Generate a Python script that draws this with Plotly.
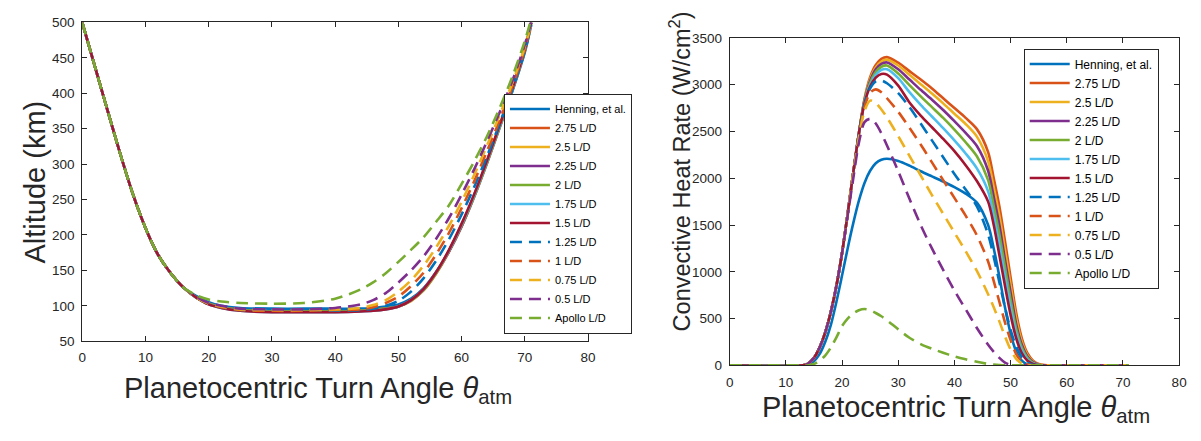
import plotly.graph_objects as go

# ---------------- data ----------------
names = ["Henning, et al.", "2.75 L/D", "2.5 L/D", "2.25 L/D", "2 L/D", "1.75 L/D",
         "1.5 L/D", "1.25 L/D", "1 L/D", "0.75 L/D", "0.5 L/D", "Apollo L/D"]
colors = ["#0072BD", "#D95319", "#EDB120", "#7E2F8E", "#77AC30", "#4DBEEE",
          "#A2142F", "#0072BD", "#D95319", "#EDB120", "#7E2F8E", "#77AC30"]
dashes = ["solid"] * 7 + ["12px,7px"] * 5

# Left panel: altitude (km) vs turn angle (deg)
x_desc = [0, 2, 4, 6, 8, 10, 12, 14, 16]
alt_desc = [500, 438, 376, 315, 258, 210, 172, 146, 126]
x_asc = [18, 20, 22, 25, 30, 35, 40, 44, 46, 48, 50, 52, 54, 56, 58, 60, 62, 64, 66, 68, 70, 71]
alt_henning = [114, 105, 100, 97, 96, 96, 96, 96, 97, 99, 102, 110, 125, 148, 177, 212, 254, 301, 351, 402, 458, 496]
alt_275 = [112, 103, 98, 94, 92, 92, 92, 93, 94, 96, 99, 107, 122, 146, 176, 212, 255, 302, 352, 404, 461, 500]
alt_25 = [112, 103, 98, 94, 92, 92, 92, 93, 94, 96, 99, 107, 122, 146, 177, 213, 255, 302, 352, 404, 461, 500]
alt_225 = [112, 103, 98, 94, 92, 92, 92, 93, 94, 96, 99, 108, 123, 147, 177, 213, 256, 303, 353, 404, 461, 500]
alt_2 = [112, 103, 98, 94, 92, 92, 92, 93, 94, 96, 99, 108, 123, 147, 178, 214, 256, 303, 353, 405, 461, 500]
alt_175 = [112, 102, 97, 93, 91, 91, 91, 92, 93, 95, 99, 108, 124, 148, 178, 215, 257, 304, 354, 405, 462, 500]
alt_15 = [112, 102, 97, 93, 91, 91, 91, 92, 93, 95, 99, 108, 124, 148, 179, 216, 258, 305, 355, 406, 462, 500]
alt_125 = [112, 103, 98, 94, 93, 93, 93, 94, 96, 100, 107, 120, 139, 164, 194, 229, 268, 311, 357, 405, 460, 497]
alt_1 = [112, 103, 98, 94, 93, 93, 94, 95, 98, 104, 113, 128, 147, 173, 203, 238, 276, 318, 362, 409, 463, 498]
alt_075 = [112, 103, 99, 95, 94, 94, 95, 97, 101, 108, 120, 136, 157, 183, 213, 247, 285, 326, 369, 414, 466, 499]
alt_05 = [113, 104, 100, 96, 95, 95, 97, 102, 108, 118, 133, 150, 170, 195, 224, 257, 293, 332, 373, 417, 469, 500]
alt_apollo = [115, 109, 106, 104, 103, 104, 110, 123, 133, 146, 162, 179, 197, 219, 242, 272, 304, 339, 379, 423, 474, 505]
alt_series = [alt_henning, alt_275, alt_25, alt_225, alt_2, alt_175, alt_15,
              alt_125, alt_1, alt_075, alt_05, alt_apollo]

# Right panel: convective heat rate (W/cm^2) vs turn angle (deg)
x_q = [0, 13, 14, 15, 16, 17, 18, 19, 20, 21, 22, 23, 24, 25, 26, 27, 28, 30, 32, 34, 36, 38,
       40, 42, 44, 46, 47, 48, 49, 50, 51, 52, 53, 54, 55, 56, 58, 71]
q_henning = [0, 0, 10, 45, 120, 250, 430, 680, 960, 1250, 1520, 1760, 1950, 2080, 2160, 2198, 2208,
             2185, 2135, 2075, 2020, 1965, 1905, 1835, 1740, 1500, 1250, 950, 620, 340, 150, 50, 10,
             0, 0, 0, 0, 0]
q_275 = [0, 0, 20, 80, 190, 350, 570, 850, 1200, 1620, 2060, 2480, 2850, 3080, 3210, 3275, 3295,
         3235, 3145, 3055, 2960, 2855, 2750, 2645, 2525, 2280, 2000, 1700, 1330, 940, 560, 290, 130,
         50, 15, 3, 0, 0]
q_25 = [0, 0, 20, 80, 190, 350, 570, 850, 1200, 1620, 2060, 2480, 2840, 3060, 3185, 3248, 3268,
        3205, 3105, 3005, 2905, 2800, 2690, 2580, 2445, 2180, 1900, 1600, 1230, 860, 500, 250, 110,
        40, 10, 0, 0, 0]
q_225 = [0, 0, 20, 80, 190, 350, 570, 850, 1200, 1620, 2060, 2480, 2830, 3040, 3165, 3222, 3238,
         3165, 3055, 2945, 2840, 2730, 2610, 2485, 2345, 2080, 1800, 1500, 1130, 780, 440, 220, 95,
         35, 8, 0, 0, 0]
q_2 = [0, 0, 20, 80, 190, 350, 570, 850, 1200, 1620, 2060, 2480, 2820, 3020, 3135, 3192, 3205,
       3120, 2995, 2875, 2760, 2645, 2520, 2385, 2235, 1980, 1700, 1400, 1050, 700, 390, 190, 80,
       28, 5, 0, 0, 0]
q_175 = [0, 0, 20, 80, 190, 350, 570, 850, 1200, 1620, 2060, 2480, 2810, 3000, 3105, 3158, 3165,
         3070, 2920, 2785, 2660, 2535, 2405, 2265, 2105, 1860, 1600, 1290, 950, 620, 340, 160, 65,
         20, 3, 0, 0, 0]
q_15 = [0, 0, 20, 80, 190, 350, 570, 850, 1200, 1620, 2060, 2480, 2800, 2980, 3075, 3115, 3108,
        2990, 2810, 2670, 2545, 2420, 2290, 2140, 1970, 1750, 1500, 1180, 850, 540, 290, 130, 50,
        15, 0, 0, 0, 0]
q_125 = [0, 0, 20, 80, 190, 350, 570, 850, 1200, 1620, 2060, 2470, 2780, 2960, 3035, 3045, 3015,
         2910, 2760, 2585, 2405, 2225, 2045, 1880, 1700, 1400, 1160, 890, 620, 380, 200, 90, 30,
         5, 0, 0, 0, 0]
q_1 = [0, 0, 20, 80, 190, 350, 570, 850, 1200, 1620, 2060, 2450, 2760, 2915, 2950, 2920, 2855,
       2710, 2540, 2360, 2170, 1980, 1790, 1600, 1390, 1110, 900, 680, 460, 270, 120, 40, 10,
       0, 0, 0, 0, 0]
q_075 = [0, 0, 20, 80, 190, 350, 570, 850, 1200, 1620, 2050, 2430, 2720, 2830, 2805, 2735, 2650,
         2450, 2240, 2030, 1820, 1620, 1420, 1220, 1010, 760, 620, 470, 310, 170, 70, 20, 0,
         0, 0, 0, 0, 0]
q_05 = [0, 0, 20, 80, 190, 350, 570, 850, 1200, 1600, 2000, 2380, 2600, 2635, 2585, 2480, 2350,
        2075, 1780, 1500, 1250, 1020, 800, 600, 400, 220, 145, 80, 30, 5, 0, 0, 0,
        0, 0, 0, 0, 0]
q_apollo = [0, 0, 0, 15, 50, 105, 190, 300, 420, 500, 555, 590, 602, 590, 560, 525, 482,
            385, 295, 228, 178, 135, 96, 65, 38, 15, 8, 3, 0, 0, 0, 0, 0,
            0, 0, 0, 0, 0]
q_series = [q_henning, q_275, q_25, q_225, q_2, q_175, q_15, q_125, q_1, q_075, q_05, q_apollo]

x_ticks = [0, 10, 20, 30, 40, 50, 60, 70, 80]
alt_ticks = [50, 100, 150, 200, 250, 300, 350, 400, 450, 500]
q_ticks = [0, 500, 1000, 1500, 2000, 2500, 3000, 3500]

x_title = "Planetocentric Turn Angle <i>θ</i><sub>atm</sub>"
alt_title = "Altitude (km)"
q_title = "Convective Heat Rate (W/cm<sup>2</sup>)"

# ---------------- figure ----------------
W, H = 1201, 441
FONT = "Liberation Sans, Arial, Helvetica, sans-serif"
AX = "#262626"

fig = go.Figure()
for i, name in enumerate(names):
    fig.add_trace(go.Scatter(
        x=x_desc + x_asc, y=alt_desc + alt_series[i], mode="lines", name=name,
        line=dict(color=colors[i], width=2.6, dash=dashes[i], shape="spline", smoothing=0.8),
        xaxis="x", yaxis="y", legend="legend", showlegend=True))
for i, name in enumerate(names):
    fig.add_trace(go.Scatter(
        x=x_q, y=q_series[i], mode="lines", name=name,
        line=dict(color=colors[i], width=2.6, dash=dashes[i], shape="spline", smoothing=0.8),
        xaxis="x2", yaxis="y2", legend="legend2", showlegend=True))


def px_x(p):
    return p / W


def px_y(p):
    return 1 - p / H


common_axis = dict(showgrid=False, zeroline=False, showline=True, linecolor=AX, linewidth=1,
                   mirror="ticks", ticks="inside", ticklen=5, tickwidth=1, tickcolor=AX,
                   tickfont=dict(family=FONT, size=13.5, color=AX), ticklabelstandoff=4)

fig.update_layout(
    width=W, height=H, margin=dict(l=0, r=0, t=0, b=0),
    paper_bgcolor="white", plot_bgcolor="white",
    font=dict(family=FONT, color=AX),
    xaxis=dict(domain=[px_x(79), px_x(590)], range=[0, 80], tickvals=x_ticks, anchor="y",
               **common_axis),
    yaxis=dict(domain=[px_y(346), px_y(16)], range=[50, 500], tickvals=alt_ticks, anchor="x",
               **common_axis),
    xaxis2=dict(domain=[px_x(733), px_x(1187)], range=[0, 80], tickvals=x_ticks, anchor="y2",
                **common_axis),
    yaxis2=dict(domain=[px_y(371), px_y(32)], range=[0, 3500], tickvals=q_ticks, anchor="x2",
                **common_axis),
    legend=dict(x=px_x(505), y=px_y(338), xanchor="left", yanchor="bottom",
                bgcolor="white", bordercolor=AX, borderwidth=1,
                font=dict(family=FONT, size=11, color="black"), itemwidth=40,
                tracegroupgap=0),
    legend2=dict(x=px_x(1030), y=px_y(43), xanchor="left", yanchor="top",
                 bgcolor="white", bordercolor=AX, borderwidth=1,
                 font=dict(family=FONT, size=12, color="black"), itemwidth=40,
                 tracegroupgap=0),
    annotations=[
        dict(text=x_title, x=px_x(317), y=px_y(397), xref="paper", yref="paper",
             xanchor="center", yanchor="middle", showarrow=False,
             font=dict(family=FONT, size=29, color=AX)),
        dict(text=x_title, x=px_x(962), y=px_y(416), xref="paper", yref="paper",
             xanchor="center", yanchor="middle", showarrow=False,
             font=dict(family=FONT, size=29, color=AX)),
        dict(text=alt_title, x=px_x(31), y=px_y(181), xref="paper", yref="paper",
             xanchor="center", yanchor="middle", showarrow=False, textangle=-90,
             font=dict(family=FONT, size=29, color=AX)),
        dict(text=q_title, x=px_x(683), y=px_y(170), xref="paper", yref="paper",
             xanchor="center", yanchor="middle", showarrow=False, textangle=-90,
             font=dict(family=FONT, size=23.5, color=AX)),
    ],
)

fig.write_html("out.html")
